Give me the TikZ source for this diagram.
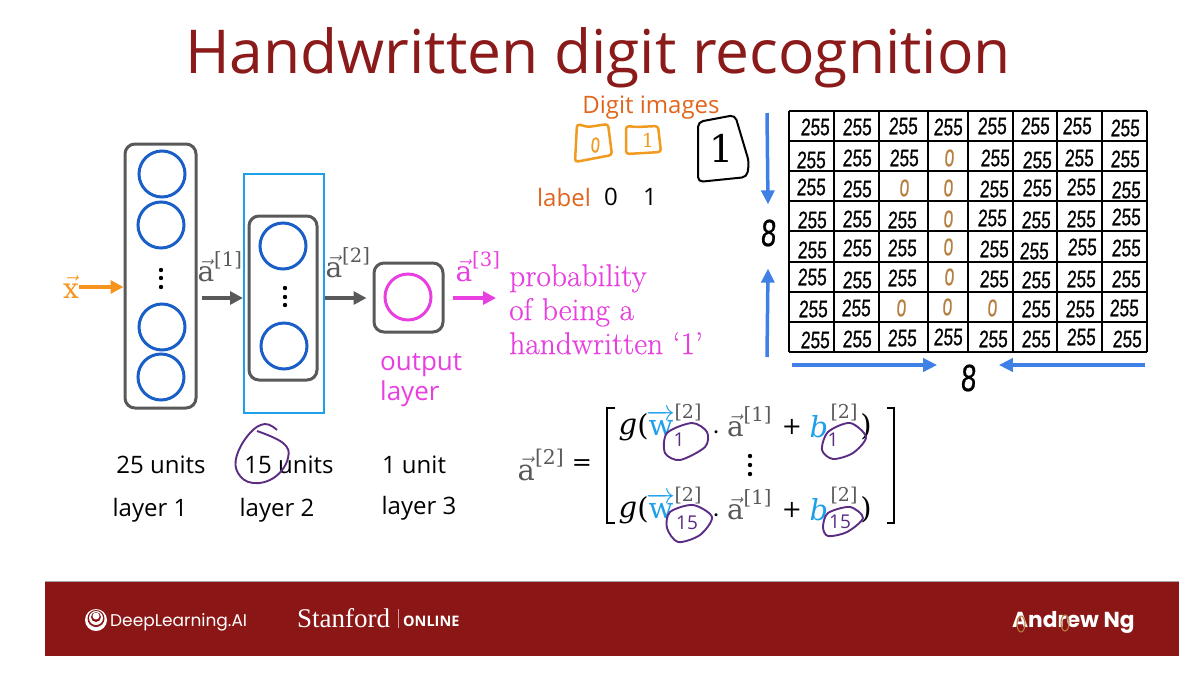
\documentclass[tikz,border=0pt]{standalone}
\usepackage{fix-cm}
\usepackage{amsmath}
\usepackage{fontspec}
\usetikzlibrary{arrows.meta}
\newfontfamily\slidefont{Open Sans}
\newfontfamily\footfont{Poppins}
\newfontfamily\stanfordfont{Liberation Serif}
\newfontfamily\eqfont{DejaVu Serif}
\newfontfamily\probfont[FakeBold=.35]{Latin Modern Roman}
\newfontfamily\handfont[FakeStretch=.72,FakeBold=.6,FakeSlant=.06]{Liberation Sans}
\newcommand{\fsz}[1]{\fontsize{#1}{#1}\selectfont}
\newcommand{\vecsym}[1]{$\vec{\text{\eqfont #1}}$}
\newcommand{\veclabel}[2]{$\vec{\text{\eqfont #1}}^{\text{\eqfont[#2]}}$}
\definecolor{titlered}{HTML}{8B1A1A}
\definecolor{boxgray}{HTML}{595959}
\definecolor{unitblue}{HTML}{1A5FC8}
\definecolor{framecyan}{HTML}{1E9FEA}
\definecolor{inputorange}{HTML}{F7941D}
\definecolor{outmagenta}{HTML}{E83FE0}
\definecolor{digitorange}{HTML}{E0661E}
\definecolor{inkorange}{HTML}{F09A20}
\definecolor{gridblue}{HTML}{3F80E6}
\definecolor{zerobrown}{HTML}{B57F3E}
\definecolor{inkpurple}{HTML}{5B2C83}
\definecolor{bandred}{HTML}{8B1616}
\tikzset{
    layerbox/.style={draw=boxgray, line width=3pt, rounded corners=10pt, inner sep=0pt},
    unit/.style={circle, draw=unitblue, line width=3pt, minimum size=46pt, inner sep=0pt},
    flow/.style={line width=4pt, -{Triangle[length=13pt,width=13pt]}},
    sizearrow/.style={gridblue, line width=3.5pt, -{Triangle[length=14pt,width=13pt]}},
    slidetext/.style={font=\slidefont\fsz{24}, inner sep=0pt},
    vectext/.style={font=\eqfont\fsz{28}, inner sep=0pt, text=boxgray},
    eqtext/.style={font=\eqfont\fsz{29}, inner sep=0pt},
    eqsup/.style={font=\eqfont\fsz{19}, inner sep=0pt, text=boxgray},
    pixel/.style={font=\handfont\fsz{24}, inner sep=0pt},
    zero/.style={font=\handfont\fsz{24}, inner sep=0pt, text=zerobrown},
    ink/.style={inkpurple, line width=1.9pt},
    handbox/.style={inkorange, line width=2.5pt, rounded corners=3pt},
}
\begin{document}
\begin{tikzpicture}[x=1pt, y=-1pt]
    \useasboundingbox (0,0) rectangle (1197,678);

    \node [text=titlered, font=\slidefont\fsz{60.5}, inner sep=0pt] (title)
        at (598,58) {Handwritten digit recognition}
        ;

    % network
    \node [layerbox, minimum width=71pt, minimum height=264pt] (layerone) at (160.5,276) {};
    \node [draw=framecyan, line width=2pt, minimum width=80pt, minimum height=239pt, inner sep=0pt] (frame) at (284,293.5) {};
    \node [layerbox, minimum width=68pt, minimum height=164pt] (layertwo) at (283,298) {};
    \node [layerbox, minimum width=69pt, minimum height=69pt] (layerthree) at (408.5,297.5) {};

    \foreach \name/\ux/\uy in {ua/162/174, ub/161/225, uc/162/327, ud/161/377, ue/283/246, uf/284/346}
        \node [unit] (\name) at (\ux,\uy) {};
    \node [unit, draw=outmagenta] (uout) at (408,297) {};

    \foreach \dx/\dy in {161/270, 161/278, 161/287, 285/288, 285/297, 285/305}
        \fill (\dx,\dy) circle (2.2);

    \node [vectext, text=inputorange] (xlabel) at (71,287) {\vecsym{x}};
    \node [vectext] (aone) at (220,267) {\veclabel{a}{1}};
    \node [vectext] (atwo) at (348,263) {\veclabel{a}{2}};
    \node [vectext, text=outmagenta] (athree) at (478,267) {\veclabel{a}{3}};
    \coordinate (athreeend) at (496,298);

    \draw [flow, inputorange] (xlabel.east) -- (layerone.west |- xlabel.east);
    \draw [flow, boxgray, shorten <=4pt] (layerone.east |- layertwo.east) -- (frame.west |- layertwo.east);
    \draw [flow, boxgray] (frame.east |- athreeend) -- ([xshift=-6pt]layerthree.west |- athreeend);
    \draw [flow, outmagenta, shorten <=8pt] (layerthree.east |- athreeend) -- (athreeend);

    \node [slidetext, text=outmagenta, font=\slidefont\fsz{26}, anchor=north west, align=left] (outlabel)
        at (380,353) {output\\[4pt]layer}
        ;
    \node [anchor=north west, align=left, text=outmagenta, font=\probfont\fsz{31.5}, inner sep=0pt] (problabel)
        at (509,264) {probability\\[2.5pt]of being a\\[2.5pt]handwritten ‘1’}
        ;

    \node [slidetext] (unitsone) at (161,465) {25 units};
    \node [slidetext] (unitstwo) at (289,465) {15 units};
    \node [slidetext] (unitsthree) at (414,465) {1 unit};
    \node [slidetext] (layerlabone) at (150,510) {layer 1};
    \node [slidetext] (layerlabtwo) at (277,510) {layer 2};
    \node [slidetext] (layerlabthree) at (419,508) {layer 3};

    \draw [ink]
        plot [smooth, tension=.7] coordinates {(277,430) (265,424) (250,433) (237,455) (238,473)
            (253,483) (275,477) (288,458) (283,443) (257,431)}
        ;

    % digit images
    \node [slidetext, text=digitorange] (digitimages) at (651,108) {Digit images};
    \node [slidetext, text=digitorange] (labelword) at (564,197) {label};
    \node [slidetext] (labelzero) at (611,197) {0};
    \node [slidetext] (labelone) at (650,197) {1};

    \draw [handbox] (577,124) -- (588,127) -- (608,124) -- (612,155) -- (575,162) -- cycle;
    \draw [handbox] (626,126) -- (637,127) -- (658,126) -- (661,152) -- (626,154) -- cycle;
    \node [text=inkorange, font=\handfont\fsz{22}, inner sep=0pt] (inkzero) at (595,145) {0};
    \node [text=inkorange, font=\eqfont\fsz{19}, inner sep=0pt] (inkone) at (648,140) {1};

    \draw [line width=2pt, rounded corners=5pt] (698,122) -- (735,115) -- (749,162) -- (747,177) -- (698,182) -- cycle;
    \node [font=\eqfont\fsz{38}, inner sep=0pt] (bigone) at (722,148) {1};

    % pixel grid
    \foreach \gx in {789,834,879,928,968,1013,1057,1102,1147}
        \draw [line width=1.3pt] (\gx,111) -- (\gx,352);
    \foreach \gy in {111,141,171,201,231,262,292,322,352}
        \draw [line width=1.3pt] (789,\gy) -- (1147,\gy);

    \foreach \cx/\cy [count=\k] in {
        815/127,857/127,903/126,948/127,992/126,1035/126,1077/126,1125/128,
        811/160,857/158,904/158,995/158,1037/160,1079/158,1125/159,
        811/187,857/189,994/189,1037/188,1081/187,1126/190,
        812/220,857/219,902/220,992/218,1036/220,1081/219,1126/217,
        812/250,857/248,902/248,994/249,1034/251,1082/247,1126/248,
        812/277,857/280,902/278,994/279,1036/280,1081/279,1126/279,
        813/309,856/308,1036/309,1080/309,1124/308,
        815/340,857/339,902/338,948/337,993/339,1036/339,1081/337,1127/339}
        \node [pixel] (cell\k) at (\cx,\cy) {255};

    \foreach \cx/\cy [count=\k] in {
        949/158,904/188,948/188,948/219,948/247,949/277,901/308,947/307,992/308}
        \node [zero] (nought\k) at (\cx,\cy) {0};

    \node [font=\handfont\fsz{38}, inner sep=0pt] (eightleft) at (768,233) {8};
    \node [font=\handfont\fsz{38}, inner sep=0pt] (eightbottom) at (968,378) {8};
    \coordinate (lefttop) at (767,113);
    \coordinate (leftbottom) at (767,357);
    \coordinate (bottomleft) at (792,365);
    \coordinate (bottomright) at (1145,365);
    \draw [sizearrow] (lefttop) -- ([yshift=15pt]eightleft.north);
    \draw [sizearrow] (leftbottom) -- ([yshift=-22pt]eightleft.south);
    \draw [sizearrow] (bottomleft) -- ([xshift=-23pt]eightbottom.west |- bottomleft);
    \draw [sizearrow] (bottomright) -- ([xshift=23pt]eightbottom.east |- bottomright);

    % equation
    \node [vectext, font=\eqfont\fsz{29}] (lhs) at (541,465) {\veclabel{a}{2}};
    \node [eqtext, font=\eqfont\fsz{24}] (equals) at (582,465) {=};
    \draw [line width=1.8pt] (615,408) -- (607,408) -- (607,523) -- (615,523);
    \draw [line width=1.8pt] (887,408) -- (894,408) -- (894,523) -- (887,523);
    \foreach \dy in {456,465,474}
        \fill (750,\dy) circle (2.2);

    \foreach \sub/\dy in {1/0, 15/83}
    {
        \begin{scope}[shift={(0,\dy)}]
            \node [eqtext, font=\eqfont\itshape\fsz{29}] (g\sub) at (628,430) {g};
            \node [eqtext] (open\sub) at (643,427) {(};
            \node [eqtext, text=framecyan] (w\sub) at (661,423) {$\overrightarrow{\text{\eqfont w}}$};
            \node [eqsup] (wsup\sub) at (688,413) {[2]};
            \node [eqtext] (dot\sub) at (717,433) {$\cdot$};
            \node [vectext] (a\sub) at (749.5,422) {\veclabel{a}{1}};
            \node [eqtext, font=\eqfont\fsz{24}] (plus\sub) at (792,427) {+};
            \node [eqtext, font=\eqfont\itshape\fsz{29}, text=framecyan] (b\sub) at (819,427) {b};
            \node [eqsup] (bsup\sub) at (844,413) {[2]};
            \node [eqtext] (close\sub) at (866,427) {)};
        \end{scope}
    }
    \node [text=inkpurple, font=\slidefont\fsz{19}, inner sep=0pt] (wsubone) at (679,440) {1};
    \node [text=inkpurple, font=\slidefont\fsz{19}, inner sep=0pt] (bsubone) at (833,440) {1};
    \node [text=inkpurple, font=\slidefont\fsz{19}, inner sep=0pt] (wsubfive) at (687,523) {15};
    \node [text=inkpurple, font=\slidefont\fsz{19}, inner sep=0pt] (bsubfive) at (840,522) {15};

    \draw [ink] plot [smooth cycle] coordinates {(692,423) (707,432) (705,447) (680,460) (665,453) (667,433)};
    \draw [ink] plot [smooth cycle] coordinates {(850,423) (866,437) (853,453) (833,459) (822,450) (828,432)};
    \draw [ink] plot [smooth cycle] coordinates {(693,505) (712,517) (700,535) (678,542) (667,528) (670,512)};
    \draw [ink] plot [smooth cycle] coordinates {(850,507) (863,518) (847,532) (828,536) (823,527) (828,513)};

    % footer band
    \fill [bandred] (45,581) rectangle (1179,656);
    \draw [gray!70, line width=.8pt] (45,581) -- (1179,581);
    \fill [white] (96,620) circle (11);
    \fill [bandred] (96,618.5) circle (8.5);
    \fill [white] (96,618) circle (7);
    \fill [bandred] (96,617) circle (5);
    \fill [white] (96,616) circle (3.5);
    \node [text=white, font=\footfont\fsz{17}, anchor=west, inner sep=0pt] (deeplearning) at (110,622) {DeepLearning.AI};
    \node [text=white, font=\stanfordfont\fsz{27}, anchor=west, inner sep=0pt] (stanford) at (297,618) {Stanford};
    \draw [white!60!bandred, line width=.7pt] (398,609) -- (398,628);
    \node [text=white, font=\slidefont\bfseries\fsz{14.5}, anchor=west, inner sep=0pt] (online) at (403,621) {ONLINE};
    \node [text=white, font=\footfont\bfseries\fsz{21.7}, anchor=west, inner sep=0pt] (andrew) at (1012,622) {Andrew Ng};
    \draw [zerobrown, line width=1.1pt] (1021,624) ellipse [x radius=4, y radius=8];
    \draw [zerobrown, line width=1.1pt] (1065,623) ellipse [x radius=4, y radius=8];
\end{tikzpicture}
\end{document}
